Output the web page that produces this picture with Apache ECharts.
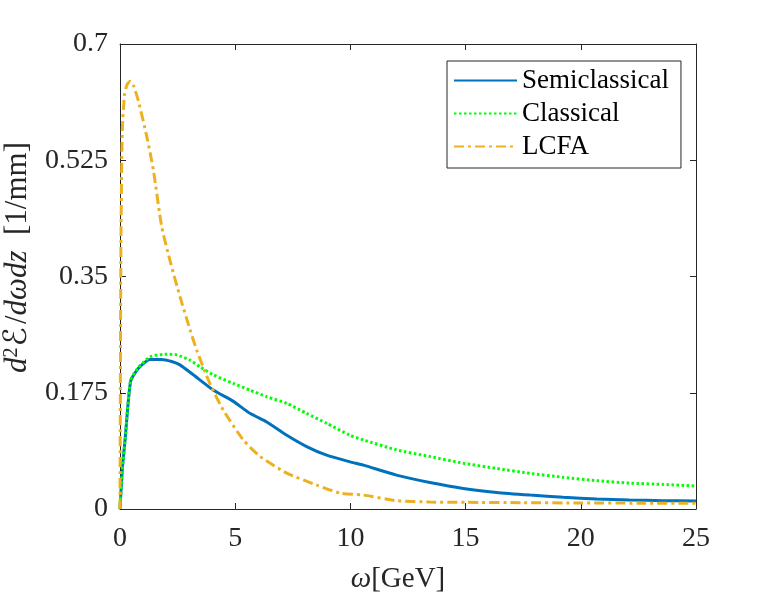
<!DOCTYPE html>
<html>
<head>
<meta charset="utf-8">
<script src="https://cdn.jsdelivr.net/npm/echarts@6/dist/echarts.min.js"></script>
<style>
  html, body { margin: 0; padding: 0; background: #fff; }
  #chart { width: 769px; height: 596px; }
</style>
</head>
<body>
<div id="chart"></div>
<script>
// values
const semiX = [0, 0.1, 0.22, 0.46, 0.8, 1.3, 1.8, 2.24, 2.6, 3.18, 4.05, 4.92, 5.64, 6.37, 7.24, 8.1, 8.97, 9.98, 10.56, 12.0, 13.45, 14.9, 16.35, 17.8, 19.24, 20.69, 22.1, 23.58, 25]
const semiY = [0, 0.06, 0.104, 0.192, 0.212, 0.225, 0.225, 0.222, 0.217, 0.202, 0.179, 0.162, 0.144, 0.131, 0.111, 0.094, 0.081, 0.071, 0.066, 0.051, 0.040, 0.031, 0.025, 0.021, 0.0176, 0.015, 0.0136, 0.0125, 0.012]

const classX = [0, 0.1, 0.22, 0.46, 0.8, 1.3, 1.95, 2.46, 3.04, 3.47, 4.05, 4.92, 5.64, 6.37, 7.24, 8.1, 8.97, 9.98, 10.56, 12.0, 13.45, 14.9, 16.35, 17.8, 19.24, 20.69, 22.1, 23.58, 25]
const classY = [0, 0.06, 0.104, 0.194, 0.213, 0.229, 0.233, 0.232, 0.224, 0.214, 0.202, 0.189, 0.179, 0.169, 0.159, 0.144, 0.129, 0.111, 0.104, 0.089, 0.079, 0.069, 0.061, 0.0536, 0.0477, 0.0427, 0.039, 0.037, 0.0346]

const lcfaX = [0, 0.04, 0.1, 0.2, 0.32, 0.45, 0.6, 0.8, 1.16, 1.45, 1.81, 2.2, 2.6, 3.04, 3.33, 3.9, 4.48, 5.35, 6.08, 7.24, 8.54, 9.55, 10.56, 12.0, 13.45, 15, 17.5, 20, 22.5, 25]
const lcfaY = [0, 0.4, 0.57, 0.625, 0.64, 0.644, 0.636, 0.614, 0.561, 0.51, 0.425, 0.37, 0.32, 0.27, 0.239, 0.189, 0.149, 0.104, 0.079, 0.054, 0.036, 0.024, 0.021, 0.0125, 0.0105, 0.01, 0.0095, 0.009, 0.0088, 0.0085]

const yTicks = ['0', '0.175', '0.35', '0.525', '0.7']

const names = ['Semiclassical', 'Classical', 'LCFA']
const colors = ['#0072BD', '#00FF00', '#EDB120']

const font = '"Liberation Serif", "DejaVu Serif", serif'
const ink = '#262626'

function pairs(xs, ys) {
  return xs.map((x, i) => [x, ys[i]])
}

const chart = echarts.init(document.getElementById('chart'), null, { renderer: 'canvas' })

// MATLAB style box: ticks inside on all four sides
function boxAxis() {
  return {
    axisLine: { show: true, onZero: false, lineStyle: { color: ink, width: 1 } },
    axisTick: { show: true, inside: true, length: 6, lineStyle: { color: ink } },
    splitLine: { show: false }
  }
}

chart.setOption({
  animation: false,
  backgroundColor: '#fff',
  grid: { left: 120, right: 73, top: 44, bottom: 87, containLabel: false, outerBoundsMode: 'none' },
  legend: {
    orient: 'vertical',
    left: 447,
    top: 61,
    data: names,
    backgroundColor: '#fff',
    borderColor: ink,
    borderWidth: 1,
    borderRadius: 0,
    padding: [6, 12, 8, 6],
    itemWidth: 63,
    itemHeight: 14,
    itemGap: 6,
    itemStyle: { opacity: 0 },
    textStyle: { fontFamily: font, fontSize: 27, color: '#000' }
  },
  xAxis: [
    Object.assign({
      type: 'value', min: 0, max: 25, interval: 5,
      name: '{i|ω}[GeV]',
      nameLocation: 'middle',
      nameGap: 56,
      nameTextStyle: {
        fontFamily: font, fontSize: 29, color: ink, padding: [0, 20, 0, 0],
        rich: { i: { fontFamily: font, fontStyle: 'italic', fontSize: 29, color: ink } }
      },
      axisLabel: { fontFamily: font, fontSize: 28, color: ink, margin: 16 }
    }, boxAxis()),
    Object.assign({
      type: 'value', min: 0, max: 25, interval: 5, position: 'top',
      axisLabel: { show: false }
    }, boxAxis())
  ],
  yAxis: [
    Object.assign({
      type: 'value', min: 0, max: 0.7, interval: 0.175,
      name: '{i|d}{sup|2}{cal|ℰ}/{i|dωdz}  [1/mm]',
      nameLocation: 'middle',
      nameRotate: 90,
      nameGap: 80,
      nameTextStyle: {
        fontFamily: font, fontSize: 31, color: ink, padding: [0, 0, 0, 38],
        rich: {
          i: { fontFamily: font, fontStyle: 'italic', fontSize: 31, color: ink },
          cal: { fontFamily: '"DejaVu Sans", "DejaVu Serif", serif', fontSize: 32, color: ink, padding: [0, 3, 0, 1] },
          sup: { fontFamily: font, fontSize: 20, color: ink, verticalAlign: 'top' }
        }
      },
      axisLabel: {
        fontFamily: font, fontSize: 28, color: ink, margin: 12,
        formatter: (v) => yTicks[Math.round(v / 0.175)]
      }
    }, boxAxis()),
    Object.assign({
      type: 'value', min: 0, max: 0.7, interval: 0.175, position: 'right',
      axisLabel: { show: false }
    }, boxAxis())
  ],
  series: [
    {
      name: names[0], type: 'line', showSymbol: false, symbol: 'none',
      data: pairs(semiX, semiY), smooth: 0.2,
      lineStyle: { color: colors[0], width: 3 },
      itemStyle: { color: colors[0] }
    },
    {
      name: names[1], type: 'line', showSymbol: false, symbol: 'none',
      data: pairs(classX, classY), smooth: 0.2,
      lineStyle: { color: colors[1], width: 3, type: [2.5, 2.5] },
      itemStyle: { color: colors[1] }
    },
    {
      name: names[2], type: 'line', showSymbol: false, symbol: 'none',
      data: pairs(lcfaX, lcfaY), smooth: 0.2,
      lineStyle: { color: colors[2], width: 3, type: [10, 4, 3, 4] },
      itemStyle: { color: colors[2] }
    }
  ]
})
</script>
</body>
</html>
